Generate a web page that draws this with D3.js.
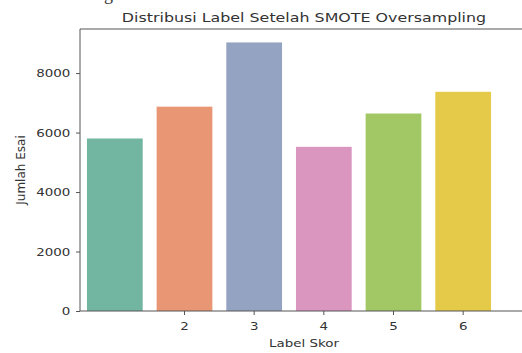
<!DOCTYPE html>
<html>
<head>
<meta charset="utf-8">
<script src="https://cdn.jsdelivr.net/npm/d3@7"></script>
<style>
  body { margin: 0; background: #fff; overflow: hidden; }
  text { font-family: "DejaVu Sans", sans-serif; fill: #333; }
</style>
</head>
<body>
<div id="chart"></div>
<script>
// data
const categories = ["1", "2", "3", "4", "5", "6"];
const counts = [5800, 6870, 9030, 5520, 6640, 7370];
const tickLabels = ["2", "3", "4", "5", "6"];
const yTicks = [0, 2000, 4000, 6000, 8000];
const palette = ["#66c2a5", "#fc8d62", "#8da0cb", "#e78ac3", "#a6d854", "#ffd92f"];

const W = 522, H = 353;
const margin = {top: 29, right: -6, bottom: 42, left: 80};
const plotW = W - margin.left - margin.right,
      plotH = H - margin.top - margin.bottom;
const stretch = 1.22; // horizontal text stretch of the screenshot

const svg = d3.select("#chart")
  .append("svg")
    .attr("width", W)
    .attr("height", H);

// bit of text from the page above the chart
svg.append("text")
  .attr("x", 104)
  .attr("y", 0)
  .style("font-family", "Liberation Serif, serif")
  .style("font-size", "18px")
  .text("g");

const g = svg.append("g")
  .attr("transform", `translate(${margin.left},${margin.top})`);

const x = d3.scaleBand()
  .domain(categories)
  .range([0, 418])
  .paddingInner(0.2)
  .paddingOuter(0.1);

const y = d3.scaleLinear()
  .domain([0, d3.max(counts) * 1.05])
  .range([plotH, 0]);

// seaborn style: palette at 0.75 saturation
const color = d3.scaleOrdinal()
  .domain(categories)
  .range(palette.map(c => { const h = d3.hsl(c); h.s *= 0.75; return h.formatHex(); }));

g.selectAll("rect.bar")
  .data(categories)
  .join("rect")
    .attr("class", "bar")
    .attr("x", d => x(d))
    .attr("width", x.bandwidth())
    .attr("y", (d, i) => y(counts[i]))
    .attr("height", (d, i) => plotH - y(counts[i]))
    .attr("fill", d => color(d));

// axes
const yAxis = g.append("g")
  .call(d3.axisLeft(y).tickValues(yTicks).tickSize(4).tickPadding(4).tickFormat(d3.format("d")));
yAxis.select(".domain").remove();
yAxis.selectAll("line").attr("stroke", "#555");
yAxis.selectAll("text")
  .style("font-size", "11px")
  .attr("transform", `scale(${stretch},1)`);

const xAxis = g.append("g")
  .attr("transform", `translate(0,${plotH})`)
  .call(d3.axisBottom(x).tickValues(categories.slice(1)).tickSize(4).tickPadding(7)
    .tickFormat((d, i) => tickLabels[i]));
xAxis.select(".domain").remove();
xAxis.selectAll("line").attr("stroke", "#555");
xAxis.selectAll("text")
  .style("font-size", "11px")
  .attr("transform", `scale(${stretch},1)`);

// spines
const frame = g.append("g")
  .attr("fill", "none")
  .attr("stroke", "#555")
  .attr("stroke-width", 1);
frame.append("line").attr("x1", 0).attr("x2", 0).attr("y1", 0).attr("y2", plotH);
frame.append("line").attr("x1", 0).attr("x2", plotW).attr("y1", 0).attr("y2", 0);
frame.append("line").attr("x1", 0).attr("x2", plotW).attr("y1", plotH).attr("y2", plotH);

// title and labels
svg.append("text")
  .attr("text-anchor", "middle")
  .attr("transform", `translate(${margin.left + plotW / 2},22) scale(${stretch},1)`)
  .style("font-size", "13px")
  .text("Distribusi Label Setelah SMOTE Oversampling");

svg.append("text")
  .attr("text-anchor", "middle")
  .attr("transform", `translate(${margin.left + plotW / 2},347) scale(${stretch},1)`)
  .style("font-size", "11px")
  .text("Label Skor");

svg.append("text")
  .attr("text-anchor", "middle")
  .attr("transform", `translate(25,${margin.top + plotH / 2}) rotate(-90)`)
  .style("font-size", "12px")
  .text("Jumlah Esai");
</script>
</body>
</html>
